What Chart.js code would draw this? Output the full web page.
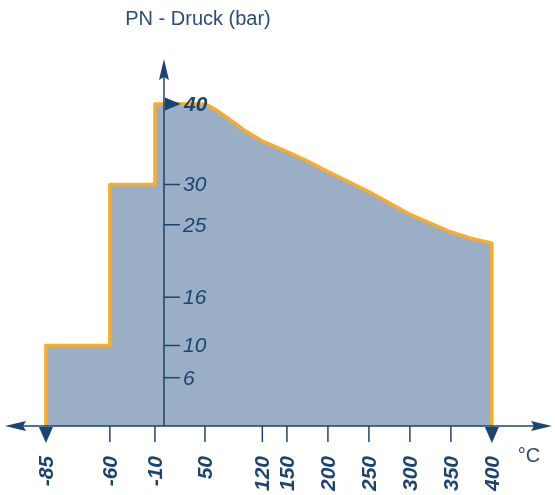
<!DOCTYPE html>
<html>
<head>
<meta charset="utf-8">
<script src="https://cdn.jsdelivr.net/npm/chart.js@4.4.0/dist/chart.umd.min.js"></script>
<style>
    html, body { margin: 0; padding: 0; background: #fff; }
    #wrap { width: 555px; height: 495px; }
</style>
</head>
<body>
<div id="wrap"><canvas id="pt_chart"></canvas></div>
<script>
// PN - Druck (bar) over temperature (°C)
var temps = [-85, -85, -60, -60, -10, -10, 50, 60, 80, 100, 120, 150, 175, 200, 250, 300, 350, 375, 400, 400];
var pressures = [0, 10, 10, 30, 30, 40, 40, 39.5, 38.1, 36.6, 35.4, 34.1, 32.9, 31.6, 29.1, 26.3, 24.1, 23.3, 22.7, 0];
var xTicks = [-85, -60, -10, 50, 120, 150, 200, 250, 300, 350, 400];
var xLimits = [-85, 400];
var yTicks = [6, 10, 16, 25, 30, 40];

var navy = '#1c4471';
var fillBlue = '#9aaec6';
var orange = '#f8ad2a';

// the drawing stretches the cold end of the axis; [°C, axis position]
var xBreaks = [[-85, -144], [-60, -66], [-10, -11], [0, 0]];

function warp(t) {
    if (t >= 0) return t;
    for (var i = xBreaks.length - 1; i > 0; i--) {
        var a = xBreaks[i - 1], b = xBreaks[i];
        if (t >= a[0] || i === 1) {
            return a[1] + (t - a[0]) * (b[1] - a[1]) / (b[0] - a[0]);
        }
    }
}
function unwarp(p) {
    if (p >= 0) return p;
    for (var i = xBreaks.length - 1; i > 0; i--) {
        var a = xBreaks[i - 1], b = xBreaks[i];
        if (p >= a[1] || i === 1) {
            return a[0] + (p - a[1]) * (b[0] - a[0]) / (b[1] - a[1]);
        }
    }
}

class BrokenScale extends Chart.LinearScale {
    getPixelForValue(v) { return super.getPixelForValue(warp(v)); }
    getValueForPixel(p) { return unwarp(super.getValueForPixel(p)); }
}
BrokenScale.id = 'broken';
BrokenScale.defaults = Chart.LinearScale.defaults;
Chart.register(BrokenScale);

function arrow(ctx, tx, ty, dx, dy) {
    var len = 21, half = 5, notch = 3;
    var px = -dy, py = dx;
    ctx.beginPath();
    ctx.moveTo(tx, ty);
    ctx.lineTo(tx - dx * len + px * half, ty - dy * len + py * half);
    ctx.lineTo(tx - dx * (len - notch), ty - dy * (len - notch));
    ctx.lineTo(tx - dx * len - px * half, ty - dy * len - py * half);
    ctx.closePath();
    ctx.fill();
}

var axisPlugin = {
    id: 'axisPlugin',
    afterDatasetsDraw: function (chart) {
        var ctx = chart.ctx;
        var xs = chart.scales.x, ys = chart.scales.y;
        var x0 = xs.getPixelForValue(0), y0 = ys.getPixelForValue(0);

        ctx.save();
        ctx.strokeStyle = navy;
        ctx.fillStyle = navy;
        ctx.lineWidth = 1.5;

        // axis lines + arrows
        ctx.beginPath();
        ctx.moveTo(10, y0); ctx.lineTo(548, y0);
        ctx.moveTo(x0, y0); ctx.lineTo(x0, 64);
        ctx.stroke();
        arrow(ctx, 5, y0, -1, 0);
        arrow(ctx, 552, y0, 1, 0);
        arrow(ctx, x0, 59, 0, -1);

        // y ticks
        ctx.textBaseline = 'middle';
        ctx.textAlign = 'left';
        yTicks.forEach(function (v) {
            var py = ys.getPixelForValue(v);
            if (v === 40) {
                ctx.beginPath();
                ctx.moveTo(x0 + 1, py - 6.5);
                ctx.lineTo(x0 + 17, py);
                ctx.lineTo(x0 + 1, py + 6.5);
                ctx.closePath();
                ctx.fill();
                ctx.font = 'italic bold 21px "Liberation Sans", Arial, sans-serif';
                ctx.fillText(String(v), x0 + 20, py + 1);
            } else {
                ctx.beginPath();
                ctx.moveTo(x0, py); ctx.lineTo(x0 + 16, py);
                ctx.stroke();
                ctx.font = 'italic 21px "Liberation Sans", Arial, sans-serif';
                ctx.fillText(String(v), x0 + 19, py + 1);
            }
        });

        // x ticks
        xTicks.forEach(function (v) {
            var px = xs.getPixelForValue(v);
            if (xLimits.indexOf(v) >= 0) {
                ctx.beginPath();
                ctx.moveTo(px - 7, y0 + 1);
                ctx.lineTo(px + 7, y0 + 1);
                ctx.lineTo(px, y0 + 17);
                ctx.closePath();
                ctx.fill();
            } else {
                ctx.beginPath();
                ctx.moveTo(px, y0); ctx.lineTo(px, y0 + 16);
                ctx.stroke();
            }
            ctx.save();
            ctx.translate(px, y0 + 30);
            ctx.rotate(-Math.PI / 2);
            ctx.textAlign = 'right';
            ctx.textBaseline = 'middle';
            ctx.font = 'italic bold 21px "Liberation Sans", Arial, sans-serif';
            ctx.fillText(String(v), 0, 1);
            ctx.restore();
        });

        // axis titles
        ctx.fillStyle = '#2a4c78';
        ctx.font = '20px "Liberation Sans", Arial, sans-serif';
        ctx.textAlign = 'center';
        ctx.fillText('PN - Druck (bar)', 198, 19);
        ctx.fillText('°C', 529, 456);
        ctx.restore();
    }
};

new Chart(document.getElementById('pt_chart').getContext('2d'), {
    type: 'line',
    data: {
        datasets: [{
            data: temps.map(function (t, i) { return { x: t, y: pressures[i] }; }),
            borderColor: orange,
            backgroundColor: fillBlue,
            borderWidth: 3.5,
            borderJoinStyle: 'round',
            fill: 'origin',
            pointRadius: 0,
            tension: 0,
            clip: false
        }]
    },
    options: {
        responsive: true,
        maintainAspectRatio: false,
        animation: false,
        layout: { padding: { left: 0, right: 0, top: 104, bottom: 69 } },
        plugins: { legend: { display: false }, tooltip: { enabled: false } },
        scales: {
            x: { type: 'broken', display: false, min: -200, max: 477, bounds: 'data' },
            y: { type: 'linear', display: false, min: 0, max: 40, bounds: 'data' }
        }
    },
    plugins: [axisPlugin]
});
</script>
</body>
</html>
